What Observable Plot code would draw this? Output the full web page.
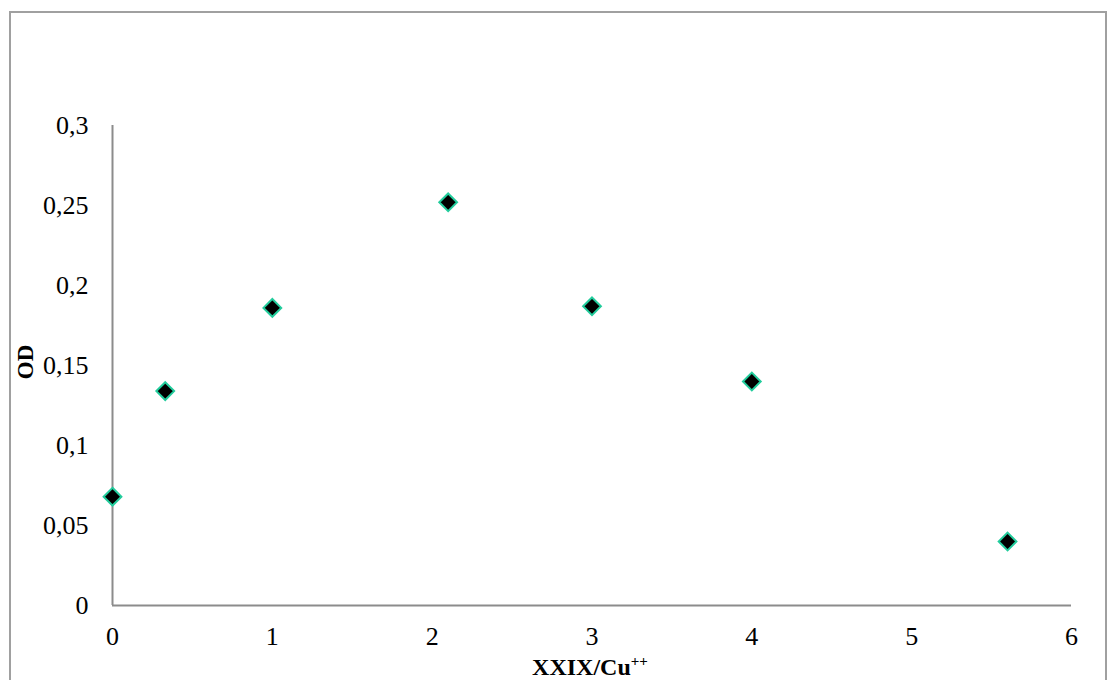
<!DOCTYPE html>
<html>
<head>
<meta charset="utf-8">
<script src="https://cdn.jsdelivr.net/npm/d3@7"></script>
<script src="https://cdn.jsdelivr.net/npm/@observablehq/plot@0.6"></script>
<style>
  html, body { margin: 0; padding: 0; background: #fff; }
  #frame { position: absolute; left: 9px; top: 11px; width: 1098px; height: 700px; border: 2px solid #a0a0a0; box-sizing: border-box; }
  #chart { position: absolute; left: 0; top: 0; }
  #chart svg text { font-family: 'Liberation Serif', 'Times New Roman', serif; }
</style>
</head>
<body>
<div id="frame"></div>
<div id="chart"></div>
<script>
const ratio = [0, 0.33, 1, 2.1, 3, 4, 5.6];
const od = [0.068, 0.134, 0.186, 0.252, 0.187, 0.14, 0.04];
const xTicks = [0, 1, 2, 3, 4, 5, 6];
const yTicks = [0, 0.05, 0.1, 0.15, 0.2, 0.25, 0.3];

const data = ratio.map((x, i) => ({x, y: od[i]}));
const fmt = d => String(d).replace(".", ",");

const plot = Plot.plot({
  width: 1110,
  height: 680,
  marginLeft: 112,
  marginRight: 39,
  marginTop: 125,
  marginBottom: 75,
  style: {fontFamily: "'Liberation Serif', 'Times New Roman', serif", fontSize: "26px", color: "#000", background: "transparent"},
  x: {domain: [0, 6], ticks: xTicks, tickFormat: fmt, label: null},
  y: {domain: [0, 0.3], ticks: yTicks, tickFormat: fmt, label: null},
  marks: [
    Plot.axisX({ticks: xTicks, tickFormat: fmt, tickSize: 0, tickPadding: 21, fontSize: 26, label: null}),
    Plot.axisY({ticks: yTicks, tickFormat: fmt, tickSize: 0, tickPadding: 24, fontSize: 26, label: null}),
    Plot.ruleY([0], {stroke: "#8c8c8c", strokeWidth: 2}),
    Plot.ruleX([0], {stroke: "#8c8c8c", strokeWidth: 2}),
    Plot.dot(data, {x: "x", y: "y", symbol: "diamond2", r: 8, fill: "#000", stroke: "#22cc9c", strokeWidth: 2})
  ]
});
document.getElementById("chart").appendChild(plot);

const svg = d3.select(plot);
const t = svg.append("text")
  .attr("x", 590).attr("y", 675)
  .attr("text-anchor", "middle")
  .attr("font-weight", "bold")
  .attr("font-size", 24)
  .attr("fill", "#000");
t.append("tspan").text("XXIX/Cu");
t.append("tspan").attr("font-size", 15).attr("dy", -9).text("++");

svg.append("text")
  .attr("transform", "translate(33,362) rotate(-90)")
  .attr("text-anchor", "middle")
  .attr("font-weight", "bold")
  .attr("font-size", 23)
  .attr("fill", "#000")
  .text("OD");
</script>
</body>
</html>
